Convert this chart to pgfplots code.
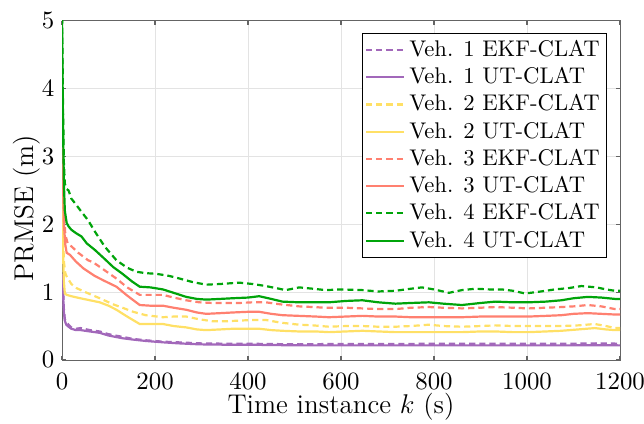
\RequirePackage{fix-cm}
\documentclass[border=0pt]{standalone}
\usepackage{pgfplots}
\pgfplotsset{compat=1.18}
\definecolor{cpur}{RGB}{162,104,186}
\definecolor{cyel}{RGB}{255,224,102}
\definecolor{csal}{RGB}{255,128,112}
\definecolor{cgrn}{RGB}{0,164,10}
\definecolor{caxis}{RGB}{100,100,100}
\begin{document}
\begin{tikzpicture}
\begin{axis}[
  name=ax,
  scale only axis,
  width=253.6pt, height=154.1pt,
  xmin=0, xmax=1200, ymin=0, ymax=5,
  xtick={0,200,...,1200}, ytick={0,1,...,5},
  tick align=inside,
  major tick length=2pt,
  axis line style={caxis},
  tick style={caxis, line width=0.5pt},
  grid=major,
  grid style={gray!22, line width=0.4pt},
  xlabel={Time instance $k$ (s)},
  ylabel={PRMSE (m)},
  ticklabel style={font=\fontsize{11.3}{13}\selectfont},
  xticklabel style={anchor=base, yshift=-13.6pt, /pgf/number format/1000 sep={}},
  every axis y label/.style={at={(rel axis cs:-0.052,0.448)}, rotate=90, anchor=base, font=\fontsize{12.3}{14}\selectfont},
  every axis x label/.style={at={(rel axis cs:0.5,-0.1593)}, anchor=base, font=\fontsize{12.3}{14}\selectfont},
  scaled x ticks=false,
  clip=true,
  legend style={at={(0.977,0.965)}, anchor=north east, draw=black, line width=0.4pt, font=\fontsize{10.3}{12}\selectfont, inner sep=1.2pt, row sep=-0.5pt},
  legend cell align=left,
  every axis plot/.append style={line width=1pt},
]
% Veh 1 EKF
\addplot[cpur, dash pattern=on 2.8pt off 1.8pt] coordinates {
(0,1.27) (2,1.1) (4,0.75) (6,0.6) (9,0.56) (14,0.52) (20,0.48) (30,0.46) (40,0.47) (60,0.44) (81,0.42) (100,0.38) (130,0.34) (153,0.31) (180,0.29) (217,0.27) (250,0.26) (296,0.245) (350,0.24) (396,0.24) (450,0.235) (510,0.23) (574,0.235) (650,0.235) (720,0.235) (800,0.24) (880,0.24) (950,0.24) (1020,0.24) (1100,0.24) (1150,0.245) (1200,0.24)};
\addlegendentry{Veh. 1 EKF-CLAT}
% Veh 1 UT
\addplot[cpur] coordinates {
(0,1.25) (2,1.0) (4,0.7) (6,0.58) (9,0.52) (14,0.49) (20,0.46) (30,0.44) (40,0.44) (60,0.42) (81,0.40) (100,0.36) (130,0.32) (153,0.30) (180,0.28) (217,0.26) (250,0.245) (296,0.23) (350,0.225) (396,0.225) (450,0.22) (510,0.215) (574,0.215) (650,0.215) (720,0.215) (800,0.215) (880,0.215) (950,0.215) (1020,0.215) (1100,0.215) (1150,0.218) (1200,0.215)};
\addlegendentry{Veh. 1 UT-CLAT}
% Veh 2 EKF
\addplot[cyel, dash pattern=on 2.8pt off 1.8pt] coordinates {
(0,2.5) (2,1.9) (4,1.45) (7,1.28) (10,1.23) (20,1.12) (31,1.06) (50,1.0) (81,0.91) (110,0.82) (130,0.77) (153,0.71) (180,0.66) (217,0.63) (240,0.64) (267,0.64) (295,0.60) (324,0.57) (350,0.57) (381,0.58) (410,0.59) (438,0.59) (470,0.55) (510,0.52) (540,0.51) (574,0.49) (610,0.50) (646,0.50) (680,0.49) (717,0.49) (750,0.50) (789,0.52) (820,0.50) (860,0.49) (900,0.50) (932,0.51) (970,0.50) (1003,0.50) (1040,0.50) (1074,0.50) (1110,0.51) (1146,0.53) (1170,0.50) (1189,0.47) (1200,0.47)};
\addlegendentry{Veh. 2 EKF-CLAT}
% Veh 2 UT
\addplot[cyel] coordinates {
(0,2.45) (2,1.6) (4,1.15) (6,0.98) (10,0.96) (20,0.94) (39,0.91) (60,0.88) (81,0.85) (100,0.80) (117,0.74) (140,0.64) (167,0.53) (190,0.53) (217,0.53) (240,0.50) (267,0.48) (290,0.45) (310,0.44) (340,0.45) (367,0.46) (400,0.46) (424,0.46) (450,0.44) (474,0.43) (510,0.42) (546,0.42) (574,0.41) (610,0.42) (646,0.43) (680,0.42) (717,0.41) (750,0.41) (789,0.41) (820,0.41) (860,0.41) (900,0.42) (932,0.42) (970,0.41) (1003,0.41) (1040,0.42) (1074,0.43) (1110,0.45) (1146,0.47) (1170,0.45) (1189,0.44) (1200,0.44)};
\addlegendentry{Veh. 2 UT-CLAT}
% Veh 3 EKF
\addplot[csal, dash pattern=on 2.8pt off 1.8pt] coordinates {
(0,3.75) (2,2.9) (4,2.2) (7,1.85) (12,1.72) (21,1.67) (35,1.58) (56,1.47) (67,1.44) (90,1.33) (117,1.20) (140,1.07) (167,0.96) (190,0.96) (217,0.96) (240,0.92) (267,0.88) (295,0.85) (324,0.84) (350,0.84) (381,0.84) (410,0.85) (438,0.85) (470,0.82) (510,0.79) (540,0.78) (567,0.77) (610,0.77) (646,0.76) (680,0.75) (717,0.75) (750,0.77) (789,0.78) (820,0.77) (860,0.76) (900,0.77) (932,0.78) (970,0.77) (1003,0.76) (1040,0.77) (1074,0.78) (1100,0.79) (1131,0.81) (1160,0.79) (1189,0.75) (1200,0.75)};
\addlegendentry{Veh. 3 EKF-CLAT}
% Veh 3 UT
\addplot[csal] coordinates {
(0,3.7) (2,2.7) (4,2.0) (7,1.7) (10,1.58) (17,1.55) (30,1.45) (46,1.35) (70,1.24) (90,1.17) (117,1.08) (140,0.95) (167,0.81) (190,0.80) (217,0.80) (240,0.77) (267,0.74) (290,0.70) (310,0.68) (340,0.69) (367,0.70) (400,0.71) (424,0.71) (450,0.68) (474,0.66) (510,0.65) (546,0.64) (574,0.63) (610,0.64) (646,0.65) (680,0.64) (717,0.64) (750,0.63) (789,0.63) (820,0.63) (860,0.63) (900,0.64) (932,0.64) (970,0.64) (1003,0.64) (1040,0.65) (1074,0.66) (1100,0.68) (1131,0.69) (1160,0.68) (1189,0.67) (1200,0.67)};
\addlegendentry{Veh. 3 UT-CLAT}
% Veh 4 EKF
\addplot[cgrn, dash pattern=on 2.8pt off 1.8pt] coordinates {
(0,5.2) (2,3.8) (4,2.9) (6,2.6) (10,2.52) (14,2.5) (20,2.38) (28,2.31) (40,2.2) (56,2.06) (70,1.9) (92,1.67) (117,1.47) (140,1.36) (160,1.30) (180,1.28) (203,1.27) (230,1.24) (253,1.20) (280,1.15) (310,1.11) (340,1.12) (381,1.14) (410,1.12) (438,1.09) (460,1.06) (481,1.03) (510,1.07) (540,1.05) (567,1.03) (600,1.04) (646,1.03) (680,1.01) (717,1.02) (750,1.05) (774,1.07) (800,1.04) (832,0.99) (860,1.03) (889,1.05) (920,1.04) (946,1.04) (970,1.02) (996,0.98) (1030,1.01) (1060,1.04) (1090,1.06) (1117,1.09) (1150,1.07) (1170,1.04) (1189,1.02) (1200,1.02)};
\addlegendentry{Veh. 4 EKF-CLAT}
% Veh 4 UT
\addplot[cgrn] coordinates {
(0,5.0) (2,3.5) (4,2.6) (6,2.2) (10,2.02) (14,1.97) (20,1.92) (30,1.87) (42,1.82) (53,1.72) (71,1.62) (90,1.50) (110,1.37) (130,1.27) (150,1.16) (167,1.08) (190,1.07) (217,1.04) (240,0.99) (267,0.93) (290,0.90) (310,0.89) (340,0.90) (367,0.91) (400,0.92) (424,0.94) (450,0.90) (474,0.86) (510,0.85) (546,0.85) (574,0.85) (610,0.87) (646,0.88) (680,0.85) (717,0.83) (750,0.84) (789,0.85) (820,0.83) (860,0.81) (900,0.84) (932,0.86) (970,0.85) (1003,0.85) (1040,0.86) (1074,0.88) (1100,0.91) (1131,0.93) (1160,0.92) (1189,0.90) (1200,0.90)};
\addlegendentry{Veh. 4 UT-CLAT}
\end{axis}
\pgfresetboundingbox
\path[use as bounding box] (ax.south west) ++(-28.2pt,-29.1pt) rectangle ++(292.7pt,192.7pt);
\end{tikzpicture}
\end{document}
